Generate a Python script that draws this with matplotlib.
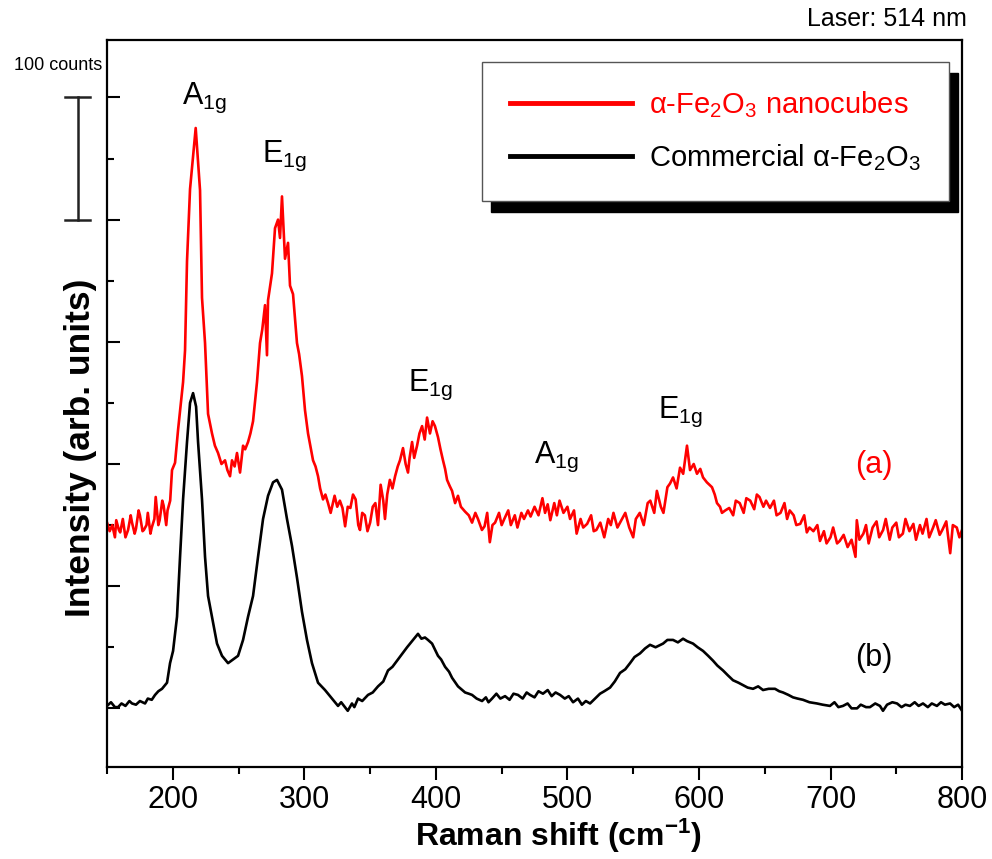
import matplotlib
matplotlib.use('Agg')
import matplotlib.pyplot as plt
from matplotlib.patches import Rectangle

plt.rcParams['font.family'] = ['Liberation Sans', 'DejaVu Sans']
plt.rcParams['mathtext.fontset'] = 'custom'
plt.rcParams['mathtext.rm'] = 'Liberation Sans'
plt.rcParams['mathtext.it'] = 'Liberation Sans:italic'
plt.rcParams['mathtext.bf'] = 'Liberation Sans:bold'
plt.rcParams['mathtext.default'] = 'regular'

# Espectro (a): nanocubos de hematita (contagens relativas)
red_shift = [150, 152, 154, 156, 157, 159, 160, 162, 164, 166,
             168, 169, 171, 172, 174, 175, 177, 178, 180, 181,
             183, 184, 186, 187, 189, 190, 192, 193, 195, 196,
             198, 199.4, 201.7, 204.0, 207.8, 209.3, 210.8, 213.1, 217.4, 220.7,
             222.2, 224.5, 226.8, 229.8, 232.0, 234.4, 237.0, 239.7, 241.5, 243.5,
             245.0, 247.0, 248.8, 251.1, 253.4, 255.0, 257.2, 259.0, 261.0, 264.0,
             266.3, 268.0, 270.1, 271.6, 272.4, 275.4, 277.7, 280.0, 281.5, 283.0,
             285.3, 287.6, 289.1, 291.4, 294.4, 296.0, 298.2, 300.5, 302.8, 304.5,
             306.6, 308.5, 310.4, 312.0, 314.2, 316.0, 318, 320, 323, 325,
             327, 329, 331, 333, 335, 337, 339, 341, 342.3, 344,
             346, 348, 350, 352, 354, 356, 358, 360, 361.3, 363,
             365, 367, 369, 371, 372.7, 375.0, 377.0, 378.8, 380.0, 381.9,
             383.5, 385.7, 387.5, 389.5, 391.5, 393.3, 395.5, 397.5, 399.3, 401.6,
             403.5, 405.4, 407.0, 408.5, 410.5, 412.3, 414.6, 416.8, 419.0, 422.2,
             425.0, 427.5, 430, 432, 435, 437, 439, 441, 443, 445,
             448, 450, 452, 455, 457, 460, 462, 465, 467, 470,
             472, 475, 478, 481, 483, 485, 487, 490, 492, 494,
             497, 500, 502, 505, 507, 510, 512, 515, 518, 520,
             522, 525, 528, 531, 533, 535, 538, 541, 544, 547,
             550, 552, 555, 558, 561, 563, 566, 568, 571, 573,
             576, 578, 580.3, 583, 585.6, 588, 590.9, 593.2, 596, 598.5,
             601, 603.1, 606, 609.9, 612, 613.7, 616, 617.5, 620, 623,
             626, 628, 631, 634, 636, 639, 642, 644, 646, 649,
             651, 654, 657, 659, 662, 665, 667, 669, 672, 674,
             677, 680, 682, 684, 687, 690, 692, 695, 697, 700,
             702, 705, 707, 710, 713, 716, 719, 720, 722, 725,
             727, 729, 732, 735, 737, 740, 742, 745, 747, 750,
             752, 755, 757, 760, 763, 765, 768, 770, 773, 775,
             778, 780, 783, 785, 788, 791, 793, 796, 798, 800]
red_counts = [152, 145, 150, 140, 154, 146, 144, 155, 140, 146,
              158, 152, 143, 147, 162, 158, 145, 146, 150, 160,
              143, 148, 155, 173, 150, 154, 170, 166, 150, 162,
              170, 195, 201, 228, 267, 293, 366, 425, 475, 424,
              336, 299, 241, 225, 215, 209, 200, 203, 195, 190,
              203, 198, 209, 193, 215, 212, 218, 225, 235, 267,
              299, 310, 330, 289, 334, 356, 393, 400, 385, 419,
              368, 381, 346, 339, 299, 290, 272, 244, 225, 215,
              203, 198, 190, 180, 171, 175, 168, 160, 174, 165,
              170, 164, 149, 165, 164, 175, 171, 150, 146, 160,
              158, 145, 152, 165, 168, 150, 183, 170, 155, 175,
              187, 180, 190, 198, 203, 213, 200, 193, 205, 218,
              205, 215, 225, 231, 220, 238, 225, 235, 231, 222,
              212, 203, 196, 187, 182, 178, 168, 174, 165, 161,
              158, 152, 160, 155, 146, 149, 160, 136, 150, 152,
              160, 150, 155, 162, 150, 158, 148, 160, 155, 162,
              157, 165, 158, 172, 160, 167, 154, 168, 158, 170,
              160, 165, 155, 162, 143, 155, 148, 151, 158, 145,
              146, 152, 140, 155, 150, 160, 148, 154, 160, 148,
              140, 155, 160, 150, 168, 170, 160, 178, 165, 160,
              181, 184, 189, 180, 197, 192, 215, 195, 200, 192,
              196, 189, 185, 181, 175, 168, 165, 160, 162, 164,
              158, 170, 168, 160, 172, 170, 163, 175, 173, 165,
              170, 164, 170, 158, 160, 168, 155, 162, 158, 150,
              151, 158, 144, 148, 145, 150, 137, 145, 135, 140,
              148, 135, 137, 142, 132, 138, 124, 154, 138, 143,
              150, 135, 148, 153, 140, 146, 155, 138, 148, 152,
              140, 143, 155, 145, 151, 138, 150, 143, 155, 140,
              148, 154, 142, 146, 153, 127, 150, 148, 140, 146]

# Espectro (b): hematita comercial
black_shift = [150, 153, 156, 158.4, 161, 164, 167, 169, 172, 175,
               178.9, 181, 184, 186.5, 189, 191.8, 195.6, 197.9, 200.2, 203.2,
               205.5, 207.8, 210.8, 213.1, 215.4, 217.7, 219.2, 222.2, 224.5, 226.8,
               229.8, 233.6, 237.4, 242.0, 245.8, 249.6, 253.4, 257.2, 261.0, 264.8,
               268.6, 272.4, 276.2, 279.2, 283.0, 286.8, 290.6, 294.4, 298.2, 302.0,
               305.8, 310.4, 315.7, 321.0, 325.6, 328, 330.9, 333, 336.2, 338,
               340.8, 344, 348.4, 352, 356.0, 360, 363.6, 367, 371.2, 374,
               378.1, 382.6, 386.4, 389, 391.7, 394, 397.1, 401.6, 404, 407.0,
               410, 412.3, 416.8, 419, 422.2, 425, 427.5, 431, 435.1, 438,
               440, 442.7, 446, 449, 452.6, 456, 459, 462.4, 466, 469,
               471.6, 475, 478, 481.4, 485, 488, 491, 494.4, 498, 501,
               504.3, 508, 511, 514, 517.2, 521, 524.8, 528, 532.4, 536,
               540.0, 544, 547.6, 551, 555.2, 559, 562.8, 567, 572.7, 576,
               580.3, 584, 587.9, 591, 595.5, 599, 603.1, 607, 610.7, 614,
               618.3, 622, 625.9, 630, 633.5, 637, 641.1, 645, 648.7, 653,
               657.8, 661, 663.9, 668, 671.5, 675, 679.1, 684, 689.7, 694,
               699.6, 703, 706, 709.5, 713, 716, 720.2, 723, 727, 730,
               734, 737.6, 739.9, 743, 747, 750.6, 754, 757, 760.4, 764,
               767, 770.3, 774, 777, 780.9, 784, 787, 790.9, 794, 797,
               800]
black_counts = [2, 5, 1, 1, 4, 2, 6, 4, 3, 6,
                4, 8, 7, 11, 14, 16, 21, 37, 47, 75,
                124, 171, 218, 250, 258, 247, 218, 171, 124, 92,
                75, 53, 43, 37, 40, 43, 56, 75, 92, 124,
                155, 174, 185, 187, 179, 155, 133, 107, 79, 56,
                37, 21, 15, 8, 2, 5, 1, -2, 4, 1,
                8, 6, 11, 13, 18, 22, 31, 34, 40, 44,
                50, 56, 61, 57, 58, 56, 53, 43, 40, 34,
                30, 25, 18, 16, 13, 12, 11, 8, 6, 9,
                5, 8, 12, 8, 10, 7, 12, 11, 8, 13,
                11, 9, 14, 12, 15, 10, 13, 11, 8, 10,
                5, 8, 3, 6, 4, 8, 12, 14, 17, 22,
                29, 32, 37, 42, 45, 49, 52, 50, 53, 56,
                56, 54, 57, 55, 53, 50, 47, 43, 39, 35,
                31, 27, 23, 21, 19, 17, 16, 18, 15, 16,
                16, 14, 13, 11, 9, 8, 7, 5, 4, 3,
                2, 5, 1, 2, 4, 0, 0, 3, 1, 1,
                4, 2, -2, 3, 5, 4, 1, 3, 2, 5,
                2, 4, 1, 4, 2, 5, 3, 4, 1, 3,
                -2]

# Rotulos dos modos vibracionais
peak_labels = ['A$_{1g}$', 'E$_{1g}$', 'E$_{1g}$', 'A$_{1g}$', 'E$_{1g}$']
peak_x = [224, 285, 396, 492, 586]
peak_y = [495, 447, 260, 201, 238]

fig = plt.figure(figsize=(9.92, 8.59), dpi=100)
ax = fig.add_axes([0.1079, 0.1071, 0.8619, 0.8463])

ax.plot(red_shift, red_counts, color='#ff0000', lw=1.9, label='α-Fe$_2$O$_3$ nanocubes')
ax.plot(black_shift, black_counts, color='black', lw=1.9, label='Commercial α-Fe$_2$O$_3$')

ax.set_xlim(150, 800)
ax.set_ylim(-48, 547)

# eixo x: ticks para fora, eixo y: ticks para dentro e sem rotulos
ax.set_xticks(range(200, 801, 100))
ax.set_xticks(range(150, 801, 50), minor=True)
ax.set_yticks(range(0, 501, 100))
ax.set_yticks(range(50, 501, 100), minor=True)
ax.tick_params(axis='x', which='both', direction='out', width=1.5, labelsize=22, pad=4)
ax.tick_params(axis='x', which='major', length=9)
ax.tick_params(axis='x', which='minor', length=5)
ax.tick_params(axis='y', which='both', direction='in', width=1.5, labelleft=False)
ax.tick_params(axis='y', which='major', length=9)
ax.tick_params(axis='y', which='minor', length=5)
for s in ax.spines.values():
    s.set_linewidth(1.6)

ax.set_xlabel('Raman shift (cm$^{\\mathbf{-1}}$)', fontsize=23, fontweight='bold')
ax.xaxis.set_label_coords(0.528, -0.068)
ax.set_ylabel('Intensity (arb. units)', fontsize=25.5, fontweight='bold')
ax.yaxis.set_label_coords(-0.012, 0.439)

for lab, px, py in zip(peak_labels, peak_x, peak_y):
    ax.text(px, py, lab, fontsize=22, ha='center', va='baseline')

ax.text(733, 199, '(a)', color='#ff0000', fontsize=22, ha='center', va='center')
ax.text(733, 41, '(b)', color='black', fontsize=22, ha='center', va='center')

ax.text(1.006, 1.012, 'Laser: 514 nm', transform=ax.transAxes, fontsize=18,
        ha='right', va='bottom')

# barra de escala de 100 contagens
ytr = ax.get_yaxis_transform()
ax.plot([-0.034, -0.034], [400, 500], color='#222222', lw=1.8, transform=ytr, clip_on=False)
for yy in [400, 500]:
    ax.plot([-0.049, -0.020], [yy, yy], color='#222222', lw=1.8, transform=ytr, clip_on=False)
ax.text(-0.006, 519, '100 counts', transform=ytr, fontsize=13, ha='right', va='bottom')

leg = ax.legend(loc='upper left', bbox_to_anchor=(0.4386, 0.970), borderaxespad=0,
                fontsize=21, handlelength=4.2, handletextpad=0.58, borderpad=0.95,
                labelspacing=0.75, fancybox=False, edgecolor='#555555',
                framealpha=1, labelcolor='linecolor')
leg.get_frame().set_linewidth(1.0)
for h in leg.get_lines():
    h.set_linewidth(3.5)

# sombra preta deslocada atras da legenda
fig.canvas.draw()
bb = leg.get_frame().get_window_extent(fig.canvas.get_renderer())
bb = bb.transformed(ax.transAxes.inverted())
dx = 9 / 855
dy = 11 / 727
ax.add_patch(Rectangle((bb.x0 + dx, bb.y0 - dy), bb.width, bb.height,
                       transform=ax.transAxes, color='black', zorder=4.5, clip_on=False))

fig.savefig('out.png', dpi=100)
